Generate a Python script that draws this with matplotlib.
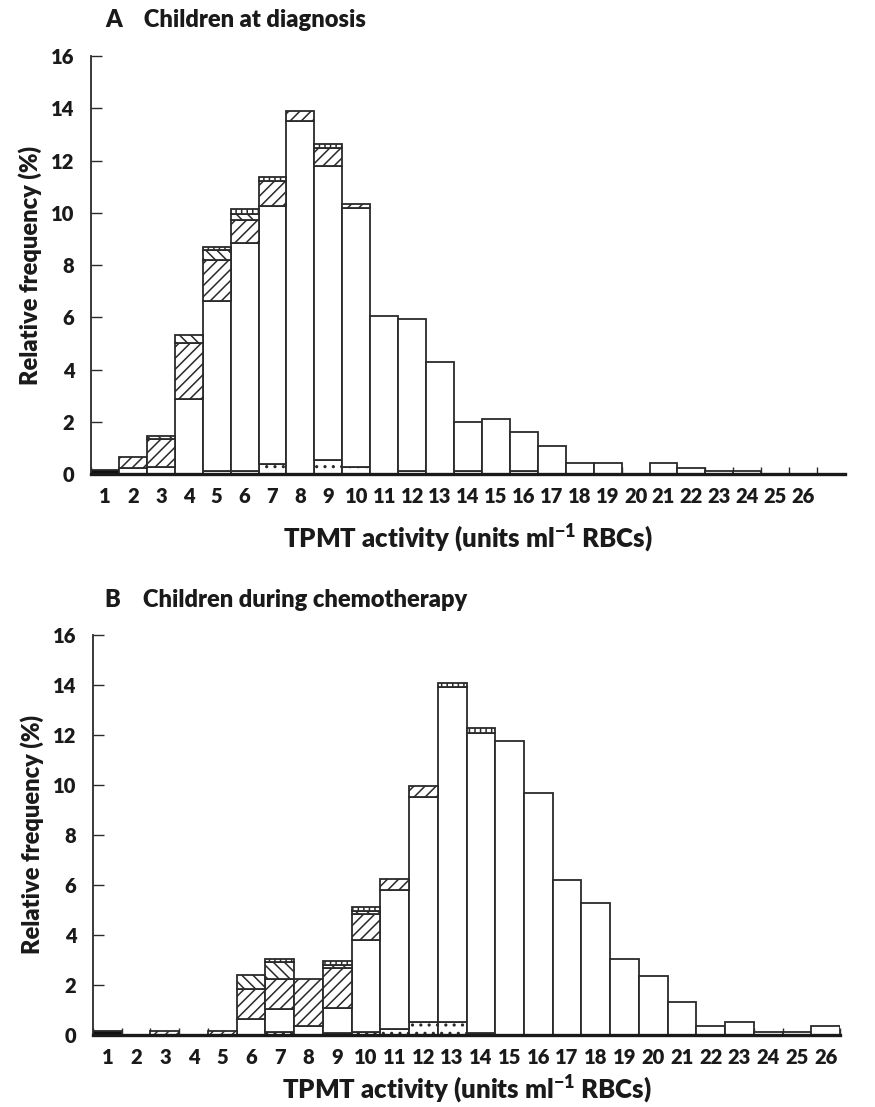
import matplotlib
matplotlib.use("Agg")
import matplotlib.pyplot as plt
import numpy as np

plt.rcParams['font.family'] = ['Lato', 'DejaVu Sans']
plt.rcParams['font.weight'] = 'heavy'
plt.rcParams['mathtext.fontset'] = 'custom'
plt.rcParams['mathtext.rm'] = 'Lato:heavy'
plt.rcParams['mathtext.bf'] = 'Lato:heavy'
plt.rcParams['mathtext.default'] = 'bf'
plt.rcParams['hatch.linewidth'] = 1.1

WEIGHT = 'heavy'
activity_labels = [str(i) for i in range(1, 27)]

# Panel A: Children at diagnosis
a_black = [0.17] + [0] * 25
a_dotted = [0, 0, 0, 0, 0.14, 0.12, 0.38, 0, 0.55, 0.27, 0, 0.14, 0, 0.14, 0, 0.14,
            0, 0, 0, 0, 0, 0, 0, 0, 0, 0]
a_white = [0, 0.25, 0.27, 2.88, 6.49, 8.71, 9.87, 13.52, 11.24, 9.93, 6.07, 5.80, 4.31,
           1.85, 2.13, 1.46, 1.07, 0.42, 0.42, 0, 0.42, 0.24, 0.12, 0.12, 0, 0]
a_fwd = [0, 0.42, 1.07, 2.15, 1.57, 0.88, 0.95, 0.38, 0.70, 0.14, 0, 0, 0,
         0, 0, 0, 0, 0, 0, 0, 0, 0, 0, 0, 0, 0]
a_back = [0, 0, 0.13, 0.28, 0.36, 0.25, 0, 0, 0, 0, 0, 0, 0,
          0, 0, 0, 0, 0, 0, 0, 0, 0, 0, 0, 0, 0]
a_vert = [0, 0, 0, 0, 0.13, 0.20, 0.15, 0, 0.13, 0, 0, 0, 0,
          0, 0, 0, 0, 0, 0, 0, 0, 0, 0, 0, 0, 0]

# Panel B: Children during chemotherapy
b_black = [0.17] + [0] * 25
b_dotted = [0, 0, 0, 0, 0, 0, 0.13, 0, 0.10, 0.12, 0.24, 0.51, 0.51, 0.10, 0, 0,
            0, 0, 0, 0, 0, 0, 0, 0, 0, 0]
b_white = [0, 0, 0, 0, 0, 0.63, 0.90, 0.36, 0.97, 3.67, 5.56, 9.00, 13.40, 11.97,
           11.77, 9.69, 6.19, 5.27, 3.04, 2.37, 1.31, 0.37, 0.51, 0.13, 0.13, 0.37]
b_fwd = [0, 0, 0.15, 0, 0.15, 1.21, 1.20, 1.87, 1.63, 1.05, 0.44, 0.45, 0,
         0, 0, 0, 0, 0, 0, 0, 0, 0, 0, 0, 0, 0]
b_back = [0, 0, 0, 0, 0, 0.56, 0.68, 0, 0.11, 0.13, 0, 0, 0,
          0, 0, 0, 0, 0, 0, 0, 0, 0, 0, 0, 0, 0]
b_vert = [0, 0, 0, 0, 0, 0, 0.13, 0, 0.16, 0.16, 0, 0, 0.16,
          0.20, 0, 0, 0, 0, 0, 0, 0, 0, 0, 0, 0, 0]

EDGE = '#2a2a2a'
TEXT = '#1a1a1a'
fig = plt.figure(figsize=(8.75, 11.07), dpi=100)

def draw_panel(ax, layers, xmax, title, title_y, xlabelpad):
    x = np.arange(1, len(activity_labels) + 1)
    styles = [
        dict(color='#111111', hatch=None),
        dict(color='white', hatch='..'),
        dict(color='white', hatch=None),
        dict(color='white', hatch='///'),
        dict(color='white', hatch='\\\\\\'),
        dict(color='white', hatch='|||'),
    ]
    bottom = np.zeros(len(x))
    for vals, st in zip(layers, styles):
        v = np.array(vals, dtype=float)
        mask = v > 0
        ax.bar(x[mask], v[mask], width=1.0, bottom=bottom[mask], color=st['color'],
               hatch=st['hatch'], edgecolor=EDGE, linewidth=1.3, align='center', zorder=2)
        bottom += v
    ax.set_xlim(0.5, xmax)
    ax.set_ylim(0, 16)
    ax.set_yticks(np.arange(0, 17, 2))
    ax.set_xticks(x)
    ax.set_xticklabels(activity_labels, fontsize=14.5, fontweight=WEIGHT, color=TEXT)
    ax.set_xticks(np.arange(0.5, 27.0, 1.0), minor=True)
    ax.tick_params(axis='x', which='major', length=0, pad=9)
    ax.tick_params(axis='x', which='minor', direction='in', length=5, width=1.0, color=EDGE)
    ax.tick_params(axis='y', direction='in', length=8, width=1.0, pad=12, labelsize=14.5,
                   color=EDGE, labelcolor=TEXT)
    for lab in ax.get_yticklabels():
        lab.set_fontweight(WEIGHT)
    ax.spines['top'].set_visible(False)
    ax.spines['right'].set_visible(False)
    ax.spines['left'].set_linewidth(1.3)
    ax.spines['left'].set_color(EDGE)
    ax.spines['bottom'].set_linewidth(2.4)
    ax.spines['bottom'].set_color('#1a1a1a')
    ax.set_ylabel('Relative frequency (%)', fontsize=17, fontweight=WEIGHT, labelpad=6,
                  color=TEXT)
    ax.set_xlabel(r'TPMT activity (units ml$^{-1}$ RBCs)', fontsize=18.5, fontweight=WEIGHT,
                  labelpad=xlabelpad, color=TEXT)
    fig.text(105 / 875, title_y, title, fontsize=17, fontweight=WEIGHT, va='center',
             ha='left', color=TEXT)

axA = fig.add_axes([91 / 875, 1 - 474.3 / 1107, (845 - 91) / 875, (474.3 - 55.9) / 1107])
draw_panel(axA, [a_black, a_dotted, a_white, a_fwd, a_back, a_vert], 27.5,
           'A    Children at diagnosis', 1 - 20 / 1107, 12)

axB = fig.add_axes([93 / 875, 1 - 1035 / 1107, (840 - 93) / 875, (1035 - 635) / 1107])
draw_panel(axB, [b_black, b_dotted, b_white, b_fwd, b_back, b_vert], 26.5,
           'B    Children during chemotherapy', 1 - 600 / 1107, 5)

fig.savefig('out.png', dpi=100)
